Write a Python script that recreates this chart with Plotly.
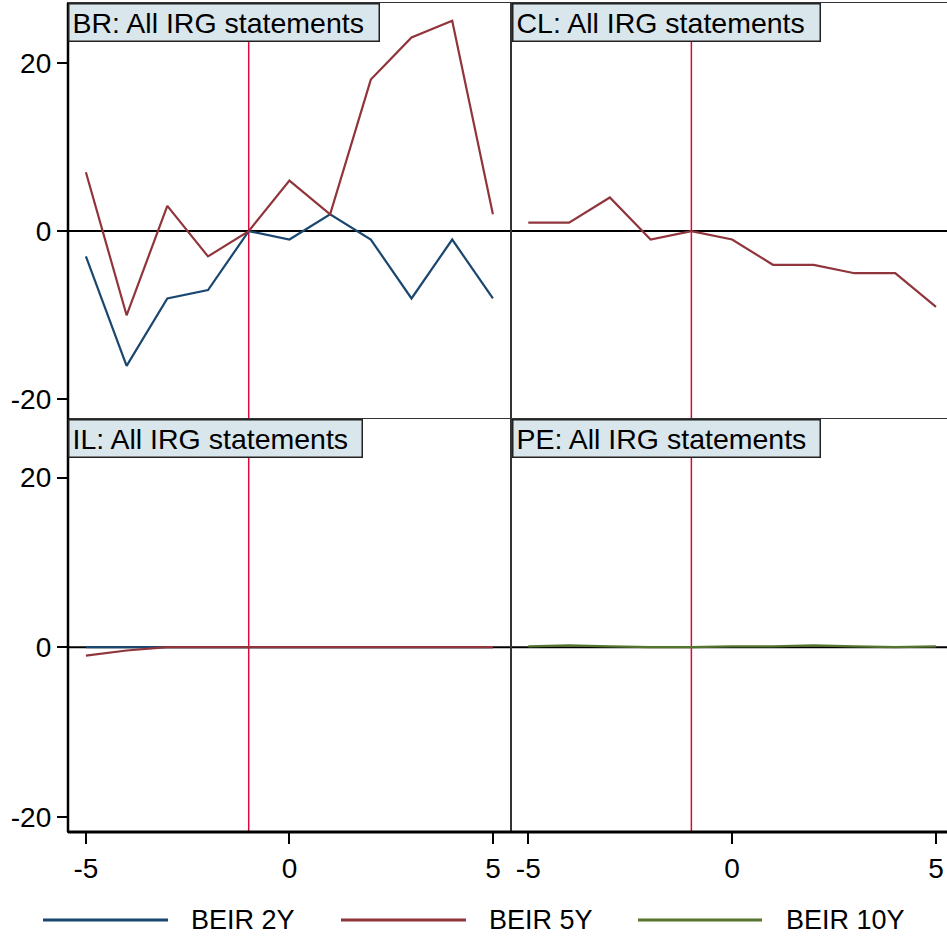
import plotly.graph_objects as go

# Event window (days relative to the IRG statement)
event_days = [-5, -4, -3, -2, -1, 0, 1, 2, 3, 4, 5]

# Cumulative breakeven inflation responses (bp)
br_beir_2y = [-3, -16, -8, -7, 0, -1, 2, -1, -8, -1, -8]
br_beir_5y = [7, -10, 3, -3, 0, 6, 2, 18, 23, 25, 2]
cl_beir_5y = [1, 1, 4, -1, 0, -1, -4, -4, -5, -5, -9]
il_beir_2y = [0, 0, 0, 0, 0, 0, 0, 0, 0, 0, 0]
il_beir_5y = [-1, -0.4, 0, 0, 0, 0, 0, 0, 0, 0, 0]
pe_beir_10y = [0.1, 0.2, 0.1, 0, 0, 0.1, 0.1, 0.2, 0.1, 0, 0.1]

panel_titles = ["BR: All IRG statements", "CL: All IRG statements",
                "IL: All IRG statements", "PE: All IRG statements"]
series_names = ["BEIR 2Y", "BEIR 5Y", "BEIR 10Y"]
series_colors = ["#1a476f", "#90353b", "#55752f"]
y_ticks = [-20, 0, 20]
y_tick_text = ["-20", "0", "20"]
x_ticks = [-5, 0, 5]
x_tick_text = ["-5", "0", "5"]
event_line_x = -1

FONT = "Liberation Sans, Arial, sans-serif"
W, H = 947, 936
ML, MR, MT, MB = 68, 0, 3, 104
PW, PH = W - ML - MR, H - MT - MB


def px_x(p):
    return (p - ML) / PW


def px_y(p):
    return (H - MB - p) / PH


fig = go.Figure()

panels = [("x", "y"), ("x2", "y2"), ("x3", "y3"), ("x4", "y4")]
panel_series = [
    [(0, br_beir_2y), (1, br_beir_5y)],
    [(1, cl_beir_5y)],
    [(0, il_beir_2y), (1, il_beir_5y)],
    [(2, pe_beir_10y)],
]

for (xa, ya), series in zip(panels, panel_series):
    for idx, vals in series:
        fig.add_trace(go.Scatter(
            x=event_days, y=vals, mode="lines", xaxis=xa, yaxis=ya,
            line=dict(color=series_colors[idx], width=2.2),
            name=series_names[idx], showlegend=False, hoverinfo="skip"))

x_dom_left = [0, px_x(510)]
x_dom_right = [px_x(512), 1]
y_dom_top = [px_y(418), 1]
y_dom_bot = [0, px_y(419)]

x_range_left = [-5.44, 5.42]
x_range_right = [-5.40, 5.27]
y_range_top = [-22.2, 27.1]
y_range_bot = [-21.8, 26.9]

axis_common = dict(showgrid=False, showline=True, mirror=True, linecolor="#333",
                   linewidth=1.3, tickfont=dict(family=FONT, size=28, color="#000"),
                   zeroline=False)

layout_axes = {}
specs = [
    ("xaxis", "yaxis", x_dom_left, y_dom_top, x_range_left, y_range_top, False, True),
    ("xaxis2", "yaxis2", x_dom_right, y_dom_top, x_range_right, y_range_top, False, False),
    ("xaxis3", "yaxis3", x_dom_left, y_dom_bot, x_range_left, y_range_bot, True, True),
    ("xaxis4", "yaxis4", x_dom_right, y_dom_bot, x_range_right, y_range_bot, True, False),
]
for i, (xk, yk, xd, yd, xr, yr, show_x, show_y) in enumerate(specs):
    anchor_y = "y" if i == 0 else f"y{i + 1}"
    anchor_x = "x" if i == 0 else f"x{i + 1}"
    layout_axes[xk] = dict(axis_common, domain=xd, range=xr, anchor=anchor_y,
                           tickvals=x_ticks if show_x else [],
                           ticktext=x_tick_text if show_x else [],
                           ticks="outside" if show_x else "", ticklen=11,
                           tickwidth=1.5, tickcolor="#000",
                           showticklabels=show_x)
    layout_axes[yk] = dict(axis_common, domain=yd, range=yr, anchor=anchor_x,
                           tickvals=y_ticks if show_y else [],
                           ticktext=y_tick_text if show_y else [],
                           ticks="outside" if show_y else "", ticklen=10,
                           tickwidth=1.5, tickcolor="#000",
                           showticklabels=show_y)

shapes = []
annotations = []

# heavier outer axis lines: left edge and bottom edge of the grid
shapes.append(dict(type="line", xref="paper", yref="paper", x0=0, x1=0, y0=0, y1=1,
                   line=dict(color="#000", width=2.5)))
shapes.append(dict(type="line", xref="paper", yref="paper", x0=0, x1=1, y0=0, y1=0,
                   line=dict(color="#000", width=3)))

title_widths = [303, 300, 286, 300]
for i, (xa, ya) in enumerate(panels):
    # zero reference line
    shapes.append(dict(type="line", xref=f"{xa} domain", yref=ya, x0=0, x1=1,
                       y0=0, y1=0, line=dict(color="#000", width=2), layer="below"))
    # event day marker
    shapes.append(dict(type="line", xref=xa, yref=f"{ya} domain", x0=event_line_x,
                       x1=event_line_x, y0=0, y1=1,
                       line=dict(color="#dc0a3c", width=1.5), layer="below"))
    annotations.append(dict(
        text=panel_titles[i], xref=f"{xa} domain", yref=f"{ya} domain",
        x=0, y=1, xanchor="left", yanchor="top", showarrow=False, align="left",
        width=title_widths[i], height=30, borderpad=3,
        bgcolor="#d9e6ec", bordercolor="#222", borderwidth=1.5,
        font=dict(family=FONT, size=28.5, color="#000")))

# legend row drawn beneath the panels
legend_y = px_y(920)
legend_items = [(43, 168, 189), (341, 466, 487), (638, 762, 784)]
for k, (a, b, t) in enumerate(legend_items):
    shapes.append(dict(type="line", xref="paper", yref="paper",
                       x0=px_x(a), x1=px_x(b), y0=legend_y, y1=legend_y,
                       line=dict(color=series_colors[k], width=3)))
    annotations.append(dict(text=series_names[k], xref="paper", yref="paper",
                            x=px_x(t), y=legend_y, xanchor="left", yanchor="middle",
                            showarrow=False,
                            font=dict(family=FONT, size=27, color="#000")))

fig.update_layout(
    width=W, height=H,
    margin=dict(l=ML, r=MR, t=MT, b=MB),
    paper_bgcolor="white", plot_bgcolor="white",
    showlegend=False,
    shapes=shapes, annotations=annotations,
    **layout_axes,
)

fig.write_html("out.html")
